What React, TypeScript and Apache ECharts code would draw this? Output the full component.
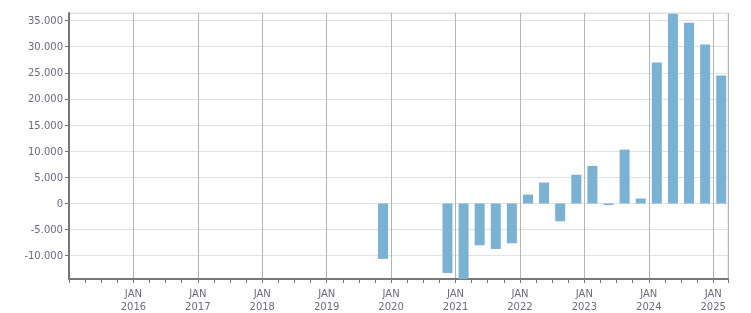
import React, { useEffect, useRef } from "react";
import * as echarts from "echarts";

// Quarterly values (quarter label -> value); missing quarters are null
const quarters = [
  "2019Q4", "2020Q1", "2020Q2", "2020Q3", "2020Q4",
  "2021Q1", "2021Q2", "2021Q3", "2021Q4",
  "2022Q1", "2022Q2", "2022Q3", "2022Q4",
  "2023Q1", "2023Q2", "2023Q3", "2023Q4",
  "2024Q1", "2024Q2", "2024Q3", "2024Q4",
  "2025Q1",
];
const values: (number | null)[] = [
  -10600, null, null, null, -13300,
  -14450, -8000, -8700, -7600,
  1700, 4000, -3400, 5500,
  7200, -300, 10300, 950,
  27000, 36300, 34600, 30400,
  24500,
];
const yearTicks = [2016, 2017, 2018, 2019, 2020, 2021, 2022, 2023, 2024, 2025];

const X_MIN = 2015;
const X_MAX = 2025.23;
const Y_MIN = -14450;
const Y_MAX = 36450;

function quarterMid(q: string): number {
  const y = parseInt(q.slice(0, 4), 10);
  const n = parseInt(q.slice(5), 10);
  return y + (n - 0.5) / 4;
}

const fmtThousands = (v: number) => {
  const s = Math.abs(Math.round(v)).toString().replace(/\B(?=(\d{3})+(?!\d))/g, ".");
  return (v < 0 ? "-" : "") + s;
};

export default function App() {
  const ref = useRef<HTMLDivElement>(null);
  useEffect(() => {
    if (!ref.current) return;
    const chart = echarts.init(ref.current, null, { renderer: "svg" });
    const textColor = "#6e6a80";
    const font = "DejaVu Sans";
    chart.setOption({
      animation: false,
      grid: {
        left: 69,
        right: 23,
        top: 13,
        bottom: 32,
        show: true,
        borderColor: "#dddddd",
        borderWidth: 1,
      },
      xAxis: {
        type: "value",
        min: X_MIN,
        max: X_MAX,
        interval: 1,
        axisLine: { show: true, onZero: false, lineStyle: { color: "#777777", width: 2 } },
        axisTick: { show: true, length: 4, lineStyle: { color: "#777777" } },
        minorTick: { show: true, splitNumber: 4, length: 4, lineStyle: { color: "#777777" } },
        splitLine: { show: true, lineStyle: { color: "#b5b5b5", width: 1 } },
        axisLabel: {
          color: textColor,
          fontFamily: font,
          fontSize: 10,
          lineHeight: 13,
          margin: 8,
          showMinLabel: false,
          showMaxLabel: false,
          formatter: (v: number) => (yearTicks.includes(Math.round(v)) && Math.abs(v - Math.round(v)) < 1e-6 ? "JAN\n" + Math.round(v) : ""),
        },
      },
      yAxis: {
        type: "value",
        min: Y_MIN,
        max: Y_MAX,
        splitNumber: 10,
        axisLine: { show: true, lineStyle: { color: "#777777", width: 2 } },
        axisTick: { show: true, length: 4, lineStyle: { color: "#777777" } },
        splitLine: { show: true, lineStyle: { color: "#e2e2e2", width: 1 } },
        axisLabel: {
          color: textColor,
          fontFamily: font,
          fontSize: 10,
          margin: 6,
          showMinLabel: false,
          showMaxLabel: false,
          formatter: (v: number) => fmtThousands(v),
        },
      },
      series: [
        {
          type: "bar",
          barWidth: 10,
          itemStyle: { color: "#7ab2d3" },
          data: quarters.map((q, i) => [quarterMid(q), values[i]]),
        },
      ],
    });
    return () => chart.dispose();
  }, []);
  return (
    <div
      ref={ref}
      style={{ position: "fixed", left: 0, top: 0, width: 751, height: 313 }}
    />
  );
}
